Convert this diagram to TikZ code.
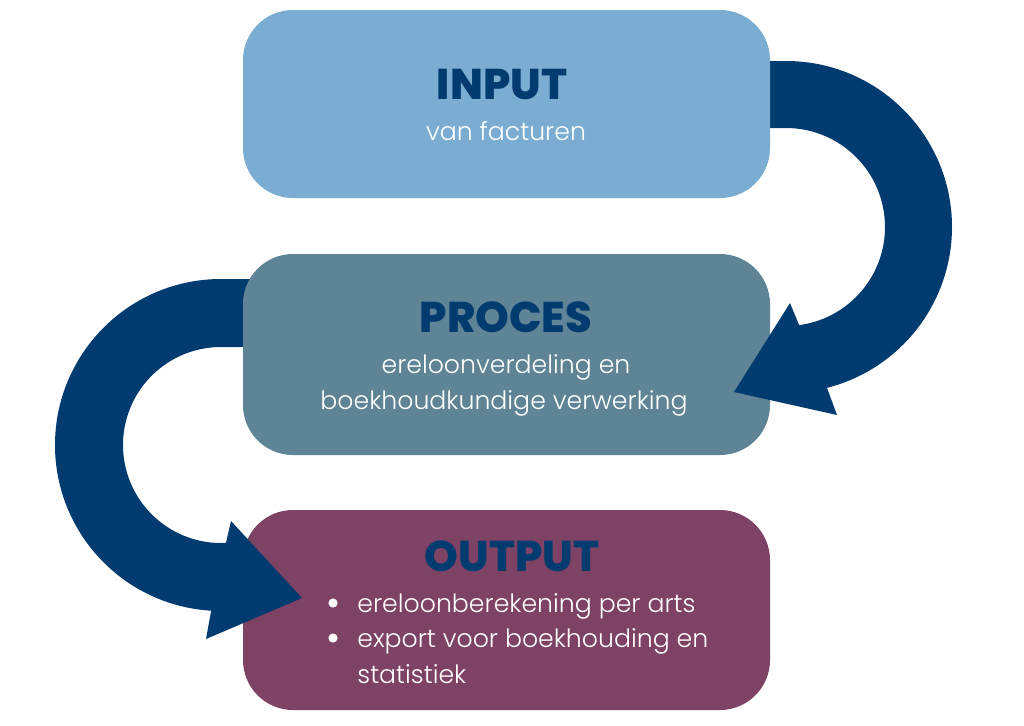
\documentclass[tikz,border=0pt]{standalone}
\usepackage{fontspec}
\setmainfont{Poppins}[UprightFont=* Light, BoldFont=* ExtraBold]
\usetikzlibrary{positioning,calc}

\definecolor{navy}{HTML}{023B70}
\definecolor{inblue}{HTML}{7BACD2}
\definecolor{procgray}{HTML}{5F8496}
\definecolor{outplum}{HTML}{7D4264}

\tikzset{
    box/.style={rounded corners=25pt, minimum width=263.5pt, inner sep=0pt},
    title/.style={anchor=base, inner sep=0pt, text=navy, font=\bfseries\fontsize{21.5}{24}\selectfont},
    body/.style={anchor=base, inner sep=0pt, text=white, font=\fontsize{12.6}{18}\selectfont},
    dot/.style={circle, fill=white, inner sep=0pt, minimum size=4.6pt},
}

\begin{document}
\begin{tikzpicture}[x=0.5pt, y=0.5pt]
    \useasboundingbox (0, 0) rectangle (1024, -725);

    \coordinate (c1) at (786, -227);
    \coordinate (c2) at (221, -445);

    % output box first, the left arrow lies on it
    \node[box, fill=outplum, minimum height=100pt] (output) at (506.5, -610) {};

    % left arrow: proces -> output
    \fill[navy] (260, -279) -- (221, -279) arc[start angle=90, end angle=266.6, radius=83pt]
        -- (206, -639) -- (302, -598) -- (231, -521)
        -- ([shift={(272.9:49pt)}]c2) arc[start angle=272.9, end angle=90, radius=49pt]
        -- (260, -347) -- cycle;

    \node[box, fill=procgray, minimum height=100.5pt] (proces) at (506.5, -354.5) {};

    % right arrow: input -> proces
    \fill[navy] (750, -61) -- (786, -61) arc[start angle=90, end angle=-75.7, radius=83pt]
        -- (837, -415) -- (734, -392) -- (790, -303)
        -- ([shift={(-82.4:49.5pt)}]c1) arc[start angle=-82.4, end angle=90, radius=49.5pt]
        -- (750, -128) -- cycle;

    \node[box, fill=inblue, minimum height=94pt] (input) at (506.5, -104) {};

    % texts
    \node[title] (inputtitle) at (502, -99) {INPUT};
    \node[body] (inputtext) at (506, -140) {van facturen};

    \node[title] (procestitle) at (506, -332) {PROCES};
    \node[body] (procestext1) at (506, -373) {ereloonverdeling en};
    \node[body] (procestext2) at (504, -409) {boekhoudkundige verwerking};

    \node[title] (outputtitle) at (512, -571) {OUTPUT};
    \node[dot] (dot1) at (333, -603) {};
    \node[dot] (dot2) at (333, -638) {};
    \node[body, anchor=base west] (outputtext1) at (357, -612) {ereloonberekening per arts};
    \node[body, anchor=base west] (outputtext2) at (357, -647) {export voor boekhouding en};
    \node[body, anchor=base west] (outputtext3) at (357, -683) {statistiek};
\end{tikzpicture}
\end{document}
